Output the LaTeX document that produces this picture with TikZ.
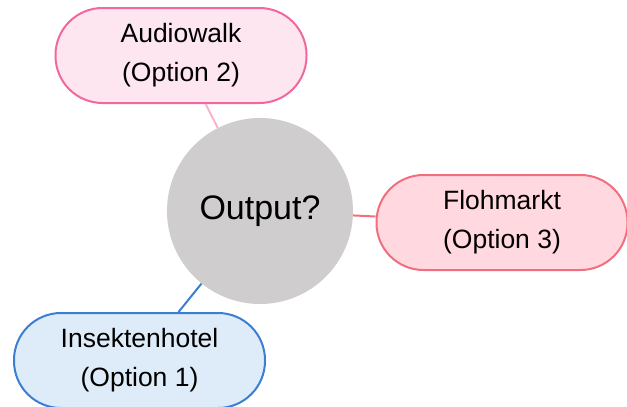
\documentclass[tikz,border=0pt]{standalone}
\usepackage{fontspec}
\setmainfont{Liberation Sans}
\usepackage{xcolor}
\usepackage{tikz}

\definecolor{hubgray}{HTML}{CFCDCE}
\definecolor{audiofill}{HTML}{FDE6F0}
\definecolor{audioline}{HTML}{F2679E}
\definecolor{audiolink}{HTML}{F8B4CF}
\definecolor{flohfill}{HTML}{FFD9DF}
\definecolor{flohline}{HTML}{F26E7F}
\definecolor{hotelfill}{HTML}{DEEBF8}
\definecolor{hotelline}{HTML}{3A7FD4}

\begin{document}
\begin{tikzpicture}[
    x=1pt, y=-1pt,
    hub/.style={circle, fill=hubgray, minimum size=186pt, inner sep=0pt, font=\fontsize{34pt}{40pt}\selectfont},
    option/.style={rectangle, rounded corners=47pt, line width=2pt, minimum width=251pt, minimum height=95pt, inner sep=0pt, align=center, font=\fontsize{26.5pt}{39pt}\selectfont},
    link/.style={line width=2pt}
]
\useasboundingbox (0,0) rectangle (627,407);

% Centre
\node[hub] (output) at (260,211) {Output?};

% Options
\node[option, draw=audioline, fill=audiofill] (audio) at (181,55.5) {Audiowalk\\(Option 2)};
\node[option, draw=flohline, fill=flohfill] (floh) at (502,222.5) {Flohmarkt\\(Option 3)};
\node[option, draw=hotelline, fill=hotelfill] (hotel) at (139.5,360.5) {Insektenhotel\\(Option 1)};

% Links
\draw[link, audiolink] (output) -- (audio);
\draw[link, flohline] (output) -- (floh);
\draw[link, hotelline] (output) -- (hotel);
\end{tikzpicture}
\end{document}
